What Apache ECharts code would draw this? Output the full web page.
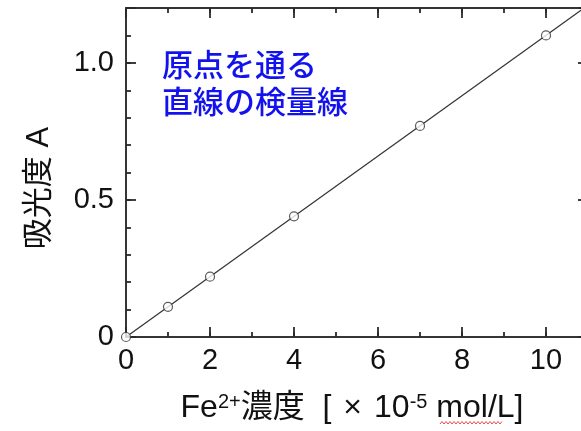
<!DOCTYPE html>
<html><head><meta charset="utf-8">
<script src="https://cdn.jsdelivr.net/npm/echarts@6/dist/echarts.min.js"></script>
<style>html,body{margin:0;padding:0;background:#fff}#c{width:581px;height:431px}</style>
</head><body><div id="c"></div>
<script>
// ---- data ----
const concentration = [0, 1, 2, 4, 7, 10];          // Fe2+ ×10^-5 mol/L
const absorbance    = [0, 0.11, 0.22, 0.44, 0.77, 1.10];
const fitX = [0, 11];                               // calibration line through origin
const fitY = [0, 1.21];
const xTickValues = [0, 2, 4, 6, 8, 10];
const xTickLabels = ['0', '2', '4', '6', '8', '10'];
const yTickValues = [0, 0.5, 1.0];
const yTickLabels = ['0', '0.5', '1.0'];
const xRange = [0, 11];
const yRange = [0, 1.2];
const xMajorStep = 2, xMinorStep = 1;
const yMajorStep = 0.5, yMinorStep = 0.1;
const annotationLines = ['原点を通る', '直線の検量線'];
const yTitle = '吸光度 A';
const xTitle = 'Fe{sup|2+}濃度  [{x|×}10{sup|-5} mol/L]';

// ---- styles ----
const AX = '#2a2a2a';
const LATIN = "'Liberation Sans', Arial, 'Noto Sans CJK JP', sans-serif";

function labelFor(values, labels) {
  return function (v) {
    for (let i = 0; i < values.length; i++) if (Math.abs(values[i] - v) < 1e-9) return labels[i];
    return '';
  };
}

function axisDef(dim, position, major, withLabels) {
  const isX = dim === 'x';
  return {
    type: 'value', position: position,
    min: isX ? xRange[0] : yRange[0], max: isX ? xRange[1] : yRange[1],
    interval: isX ? (major ? xMajorStep : xMinorStep) : (major ? yMajorStep : yMinorStep),
    axisLine: { show: true, onZero: false, lineStyle: { color: AX, width: 1.5 } },
    splitLine: { show: false },
    axisTick: { show: true, inside: true, length: major ? 10 : 5, lineStyle: { color: AX, width: 1.8 } },
    axisLabel: {
      show: withLabels,
      formatter: isX ? labelFor(xTickValues, xTickLabels) : labelFor(yTickValues, yTickLabels),
      fontFamily: LATIN, fontSize: 29, color: '#111', margin: isX ? 9 : 12
    }
  };
}

// decorative spell-check squiggle under "mol/L"
const squiggle = [];
for (let x = 440, k = 0; x <= 503; x += 2, k++) squiggle.push([x, k % 2 ? 421.5 : 424]);

const chart = echarts.init(document.getElementById('c'));
chart.setOption({
  animation: false,
  title: {
    text: annotationLines.join('\n'),
    left: 162, top: 46, padding: 0,
    textStyle: {
      fontFamily: "'Noto Sans CJK JP', sans-serif", fontWeight: 500, fontSize: 31,
      color: '#1212ee', lineHeight: 37
    }
  },
  grid: { left: 126, right: -7, top: 8, bottom: 94, outerBoundsMode: 'none' },
  xAxis: [
    axisDef('x', 'bottom', false, false),
    axisDef('x', 'bottom', true, true),
    axisDef('x', 'top', false, false),
    axisDef('x', 'top', true, false)
  ],
  yAxis: [
    axisDef('y', 'left', false, false),
    axisDef('y', 'left', true, true),
    axisDef('y', 'right', false, false),
    axisDef('y', 'right', true, false)
  ],
  series: [
    {
      type: 'line', xAxisIndex: 0, yAxisIndex: 0,
      data: fitX.map((x, i) => [x, fitY[i]]),
      symbol: 'none', clip: true, z: 2,
      lineStyle: { color: '#333', width: 1.2 }
    },
    {
      type: 'scatter', xAxisIndex: 0, yAxisIndex: 0,
      data: concentration.map((x, i) => [x, absorbance[i]]),
      symbol: 'circle', symbolSize: 9, z: 4,
      itemStyle: { color: '#fff', borderColor: '#333', borderWidth: 1.2 }
    }
  ],
  graphic: [
    {
      type: 'text', x: 352, y: 408, z: 10,
      style: {
        text: xTitle, align: 'center', verticalAlign: 'middle',
        fontFamily: LATIN, fontSize: 32, fill: '#111', lineHeight: 32,
        rich: {
          sup: { fontFamily: LATIN, fontSize: 20, lineHeight: 20, verticalAlign: 'top', fill: '#111' },
          x: { fontFamily: LATIN, fontSize: 32, lineHeight: 32, fill: '#111', padding: [0, 12, 0, 12] }
        }
      }
    },
    {
      type: 'text', x: 39, y: 188, rotation: Math.PI / 2, z: 10,
      style: {
        text: yTitle, align: 'center', verticalAlign: 'middle',
        fontFamily: LATIN, fontSize: 31, fill: '#111'
      }
    },
    {
      type: 'polyline', z: 10,
      shape: { points: squiggle },
      style: { stroke: '#e84a4a', lineWidth: 1, fill: null }
    }
  ]
});
</script>
</body></html>
